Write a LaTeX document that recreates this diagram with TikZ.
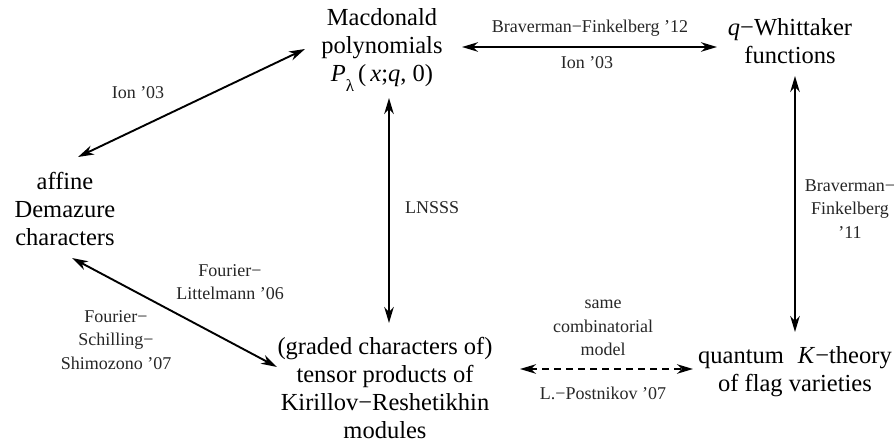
\documentclass[tikz,border=0pt]{standalone}
\usepackage{fontspec}
\setmainfont{Liberation Serif}
\usetikzlibrary{arrows.meta}
\begin{document}
\begin{tikzpicture}[x=1pt,y=-1pt,
  main/.style={align=center,inner sep=0pt,font=\fontsize{24.5}{28}\selectfont},
  lab/.style={align=center,inner sep=0pt,text=black!85,font=\fontsize{18}{23.5}\selectfont},
  arr/.style={line width=1.9pt,{Stealth[length=16pt,width=9.5pt,inset=5pt]}-{Stealth[length=16pt,width=9.5pt,inset=5pt]}},
  darr/.style={arr,line width=1.7pt,dash pattern=on 7pt off 5pt}]
\useasboundingbox (0,0) rectangle (895,447);
% nodes
\node[main] (mac) at (382,50) {Macdonald\\polynomials\\\textit{P}\raisebox{-0.4em}{\fontsize{17}{17}\selectfont λ}\,(\,\textit{x};\textit{q}, 0)};
\node[main] (qw) at (790,41) {\textit{q}−Whittaker\\functions};
\node[main] (aff) at (65,209) {affine\\Demazure\\characters};
\node[main] (grad) at (385,388) {(graded characters of)\\tensor products of\\Kirillov−Reshetikhin\\modules};
\node[main] (quant) at (795,372) {quantum\hspace{14pt}\textit{K}−theory\\of flag varieties};
% connectors
\draw[arr] ([shift={(80,-3)}]mac.center) -- ([shift={(-73,6)}]qw.center);
\draw[arr] ([shift={(-77,-1)}]mac.center) -- ([shift={(13,-52)}]aff.center);
\draw[arr] ([shift={(7,48)}]mac.center) -- ([shift={(4,-65)}]grad.center);
\draw[arr] ([shift={(5,35)}]qw.center) -- ([shift={(0,-40)}]quant.center);
\draw[arr] ([shift={(7,49)}]aff.center) -- ([shift={(-108,-21)}]grad.center);
\draw[darr] ([shift={(135,-19)}]grad.center) -- ([shift={(-102,-3)}]quant.center);
% labels
\node[lab] (l1) at (590,28) {Braverman−Finkelberg ’12};
\node[lab] (l2) at (587,63) {Ion ’03};
\node[lab] (l3) at (138,93) {Ion ’03};
\node[lab,anchor=west] (l4) at (405,208) {LNSSS};
\node[lab] (l5) at (850,209) {Braverman−\\Finkelberg\\’11};
\node[lab] (l6) at (230,282) {Fourier−\\Littelmann ’06};
\node[lab] (l7) at (116,340) {Fourier−\\Schilling−\\Shimozono ’07};
\node[lab] (l8) at (603,328) {same\\combinatorial\\model};
\node[lab] (l9) at (603,393) {L.−Postnikov ’07};
\end{tikzpicture}
\end{document}
